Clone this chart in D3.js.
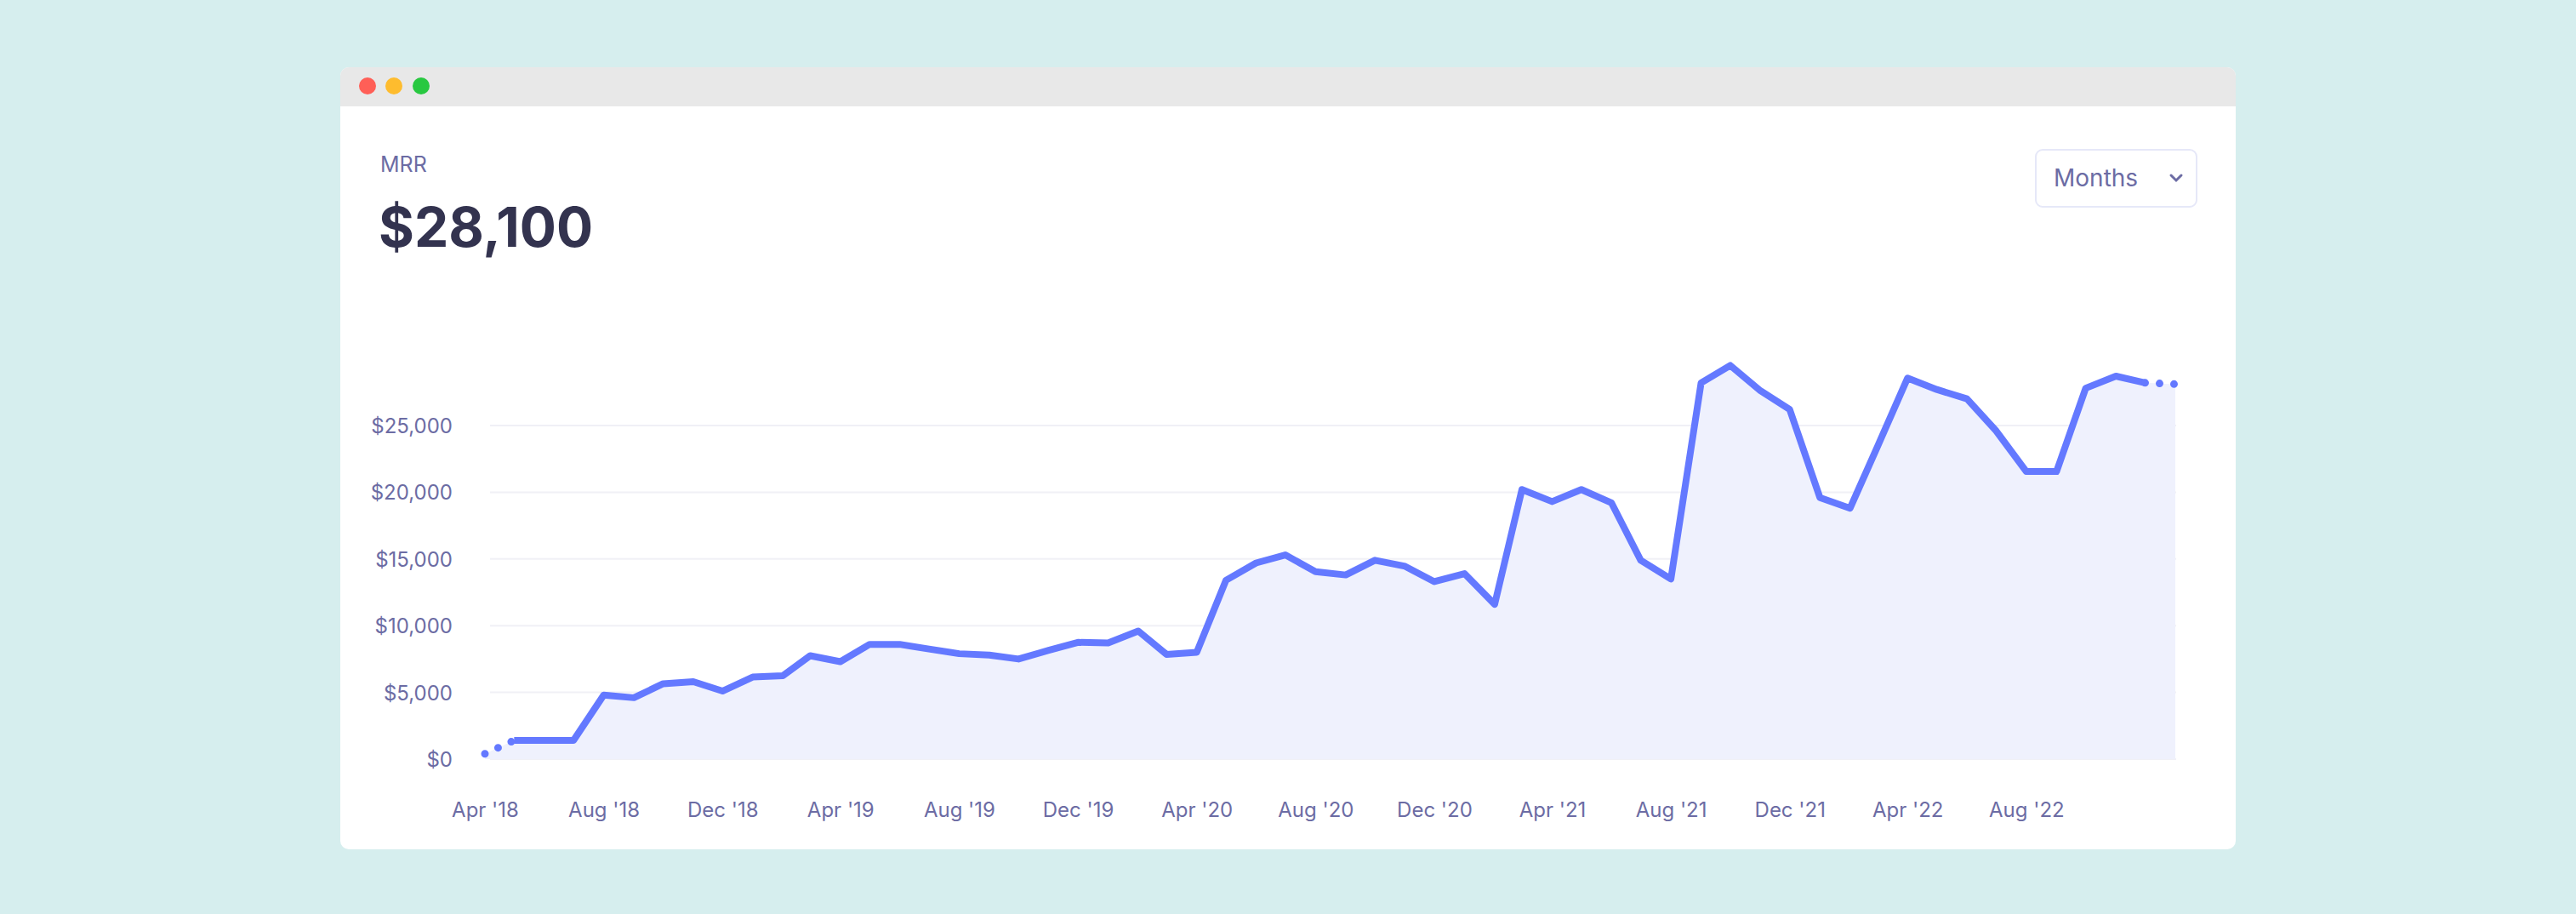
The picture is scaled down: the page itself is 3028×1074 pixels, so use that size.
<!DOCTYPE html>
<html><head><meta charset="utf-8">
<script src="https://cdn.jsdelivr.net/npm/d3@7"></script>
<style>
body{margin:0;background:#d6eeee;font-family:Inter,"Noto Sans",sans-serif;}
svg{display:block;}
</style></head>
<body><svg id="chart" width="3028" height="1074"></svg>
<script>
// MRR by month, Apr 2018 – Jan 2023
const startMonth = new Date(2018, 3, 1);
const mrr = [400, 1400, 1400, 1400, 4800, 4600, 5650, 5800, 5100, 6150, 6250, 7750,
  7300, 8600, 8600, 8250, 7900, 7800, 7500, 8150, 8750, 8700, 9600, 7850,
  8000, 13400, 14700, 15300, 14050, 13800, 14900, 14450, 13300, 13900, 11600, 20200,
  19300, 20200, 19200, 14900, 13500, 28200, 29500, 27600, 26200, 19600, 18800, 23400,
  28550, 27700, 27000, 24600, 21550, 21550, 27800, 28700, 28200, 28100];
const yTicks = [0, 5000, 10000, 15000, 20000, 25000];
const xTickEvery = 4;

const data = mrr.map((v, i) => ({ date: d3.timeMonth.offset(startMonth, i), value: v }));
const svg = d3.select("#chart");

// card
svg.append("rect").attr("x", 400).attr("y", 79).attr("width", 2228).attr("height", 919)
  .attr("rx", 10).attr("fill", "#fff");
svg.append("path").attr("d", "M400,125 V89 a10,10 0 0 1 10,-10 H2618 a10,10 0 0 1 10,10 V125 Z")
  .attr("fill", "#e8e8e8");
[["#ff5f57", 432], ["#febc2e", 463], ["#28c840", 495]].forEach(([c, x]) =>
  svg.append("circle").attr("cx", x).attr("cy", 101).attr("r", 10).attr("fill", c));

svg.append("text").attr("x", 447).attr("y", 202).attr("font-size", 25)
  .attr("fill", "#6c6ca4").text("MRR");
svg.append("text").attr("x", 445).attr("y", 290).attr("font-size", 64).attr("font-weight", 700)
  .attr("fill", "#33334f").text("$" + d3.format(",")(mrr[mrr.length - 1]));

// dropdown
svg.append("rect").attr("x", 2393).attr("y", 176).attr("width", 189).attr("height", 67)
  .attr("rx", 8).attr("fill", "#fff").attr("stroke", "#e6e8f8").attr("stroke-width", 2);
svg.append("text").attr("x", 2414).attr("y", 219).attr("font-size", 28)
  .attr("fill", "#6c6ca4").text("Months");
svg.append("path").attr("d", "M2552,206 l6,6 l6,-6").attr("fill", "none")
  .attr("stroke", "#6c6ca4").attr("stroke-width", 3).attr("stroke-linecap", "round");

const x = d3.scaleTime().domain([data[0].date, data[data.length - 1].date]).range([570, 2557]);
const y = d3.scaleLinear().domain([0, 30000]).range([892, 421.6]);

const g = svg.append("g");
g.selectAll("line.grid").data(yTicks).join("line")
  .attr("x1", 576).attr("x2", 2558).attr("y1", d => y(d)).attr("y2", d => y(d))
  .attr("stroke", "#f0f0f6").attr("stroke-width", 2);

const yAxis = g.append("g").attr("transform", "translate(535,0)")
  .call(d3.axisLeft(y).tickValues(yTicks).tickSize(0).tickFormat(d => "$" + d3.format(",")(d)));
yAxis.select(".domain").remove();
yAxis.selectAll("text").attr("font-size", 24).attr("fill", "#6c6ca4")
  .attr("font-family", "Inter,sans-serif").attr("dy", "0.35em");

const xTicks = data.filter((d, i) => i % xTickEvery === 0 && i < 56).map(d => d.date);
const xAxis = g.append("g").attr("transform", "translate(0,935)")
  .call(d3.axisBottom(x).tickValues(xTicks).tickSize(0).tickFormat(d3.timeFormat("%b '%y")));
xAxis.select(".domain").remove();
xAxis.selectAll("text").attr("font-size", 24).attr("fill", "#6c6ca4")
  .attr("font-family", "Inter,sans-serif").attr("dy", "0.9em");

g.append("path").datum(data)
  .attr("d", d3.area().x(d => x(d.date)).y0(y(0)).y1(d => y(d.value)))
  .attr("fill", "#eff1fd");

const line = d3.line().x(d => x(d.date)).y(d => y(d.value));
g.append("path").datum(data.slice(1, 57)).attr("d", line)
  .attr("fill", "none").attr("stroke", "#6479ff").attr("stroke-width", 8)
  .attr("stroke-linejoin", "round");
[data.slice(0, 2), data.slice(56)].forEach(seg =>
  g.append("path").datum(seg).attr("d", line)
    .attr("fill", "none").attr("stroke", "#6479ff").attr("stroke-width", 9)
    .attr("stroke-linecap", "round").attr("stroke-dasharray", "0 17"));
</script></body></html>
